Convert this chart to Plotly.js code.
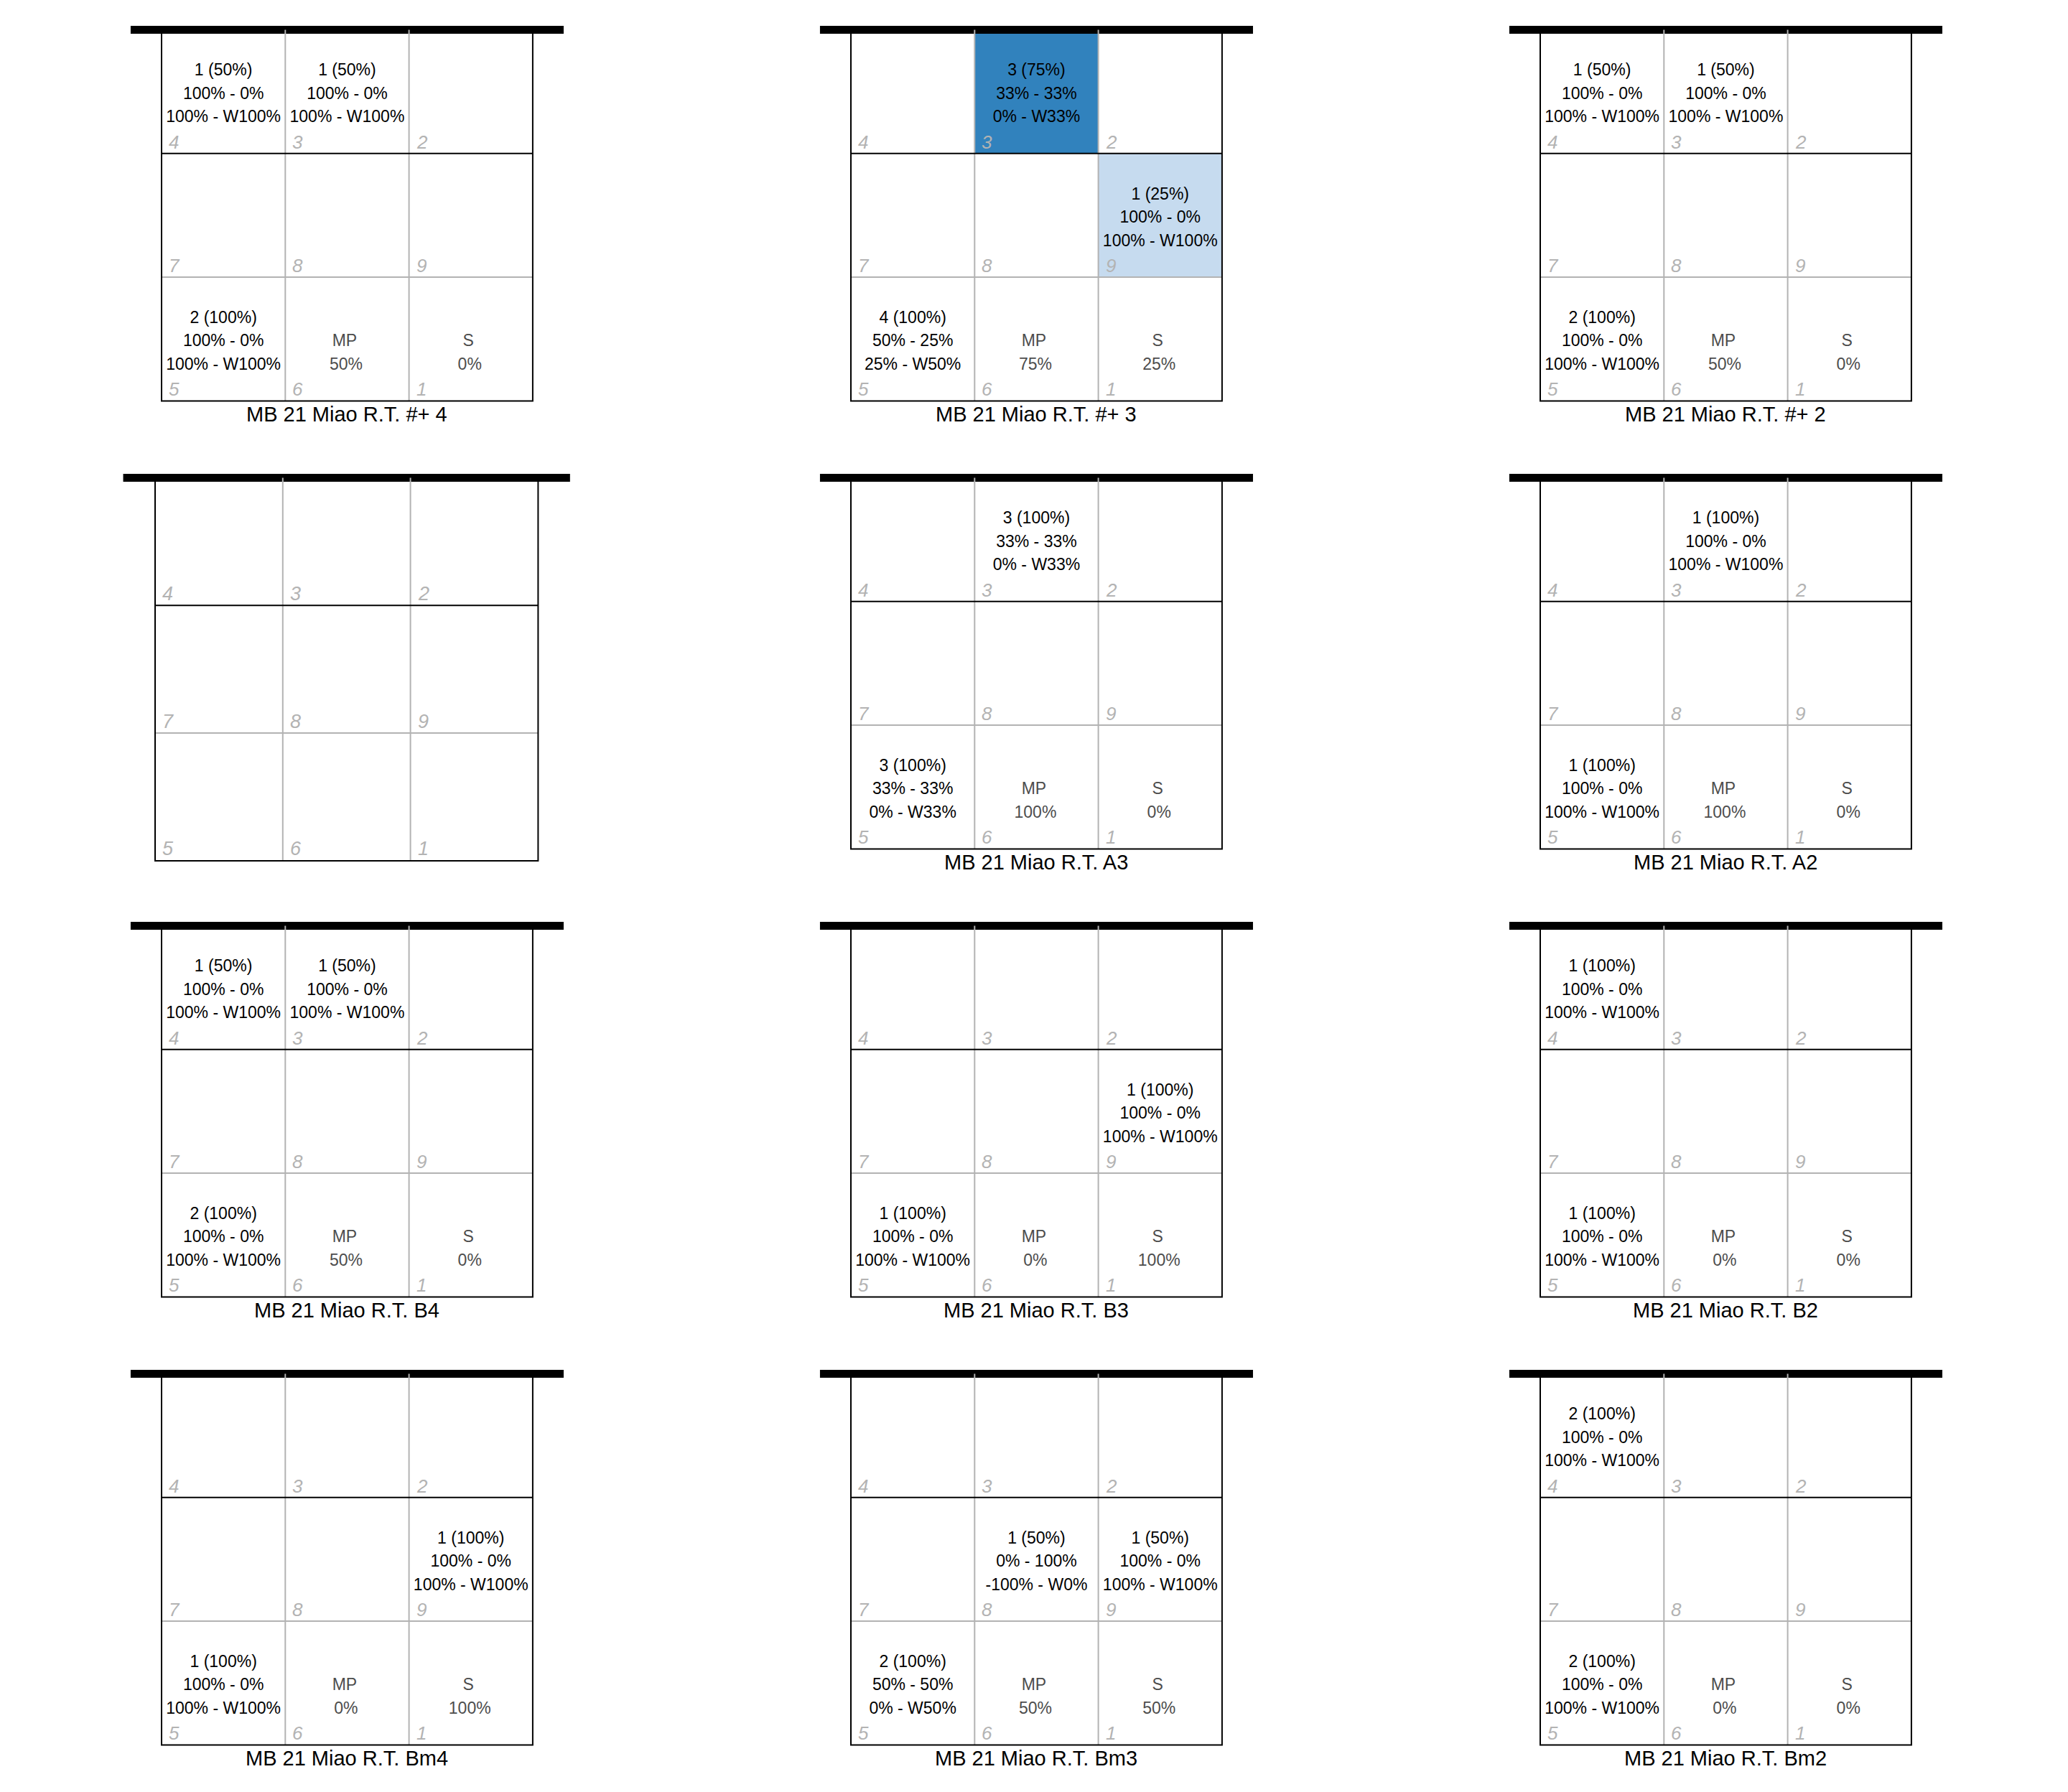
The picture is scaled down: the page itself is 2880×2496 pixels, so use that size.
<!DOCTYPE html>
<html>
<head>
<meta charset="utf-8">
<script src="https://cdn.plot.ly/plotly-3.0.1.min.js"></script>
<style>html,body{margin:0;padding:0;background:#fff;}</style>
</head>
<body>
<div id="chart" style="width:2880px;height:2496px;"></div>
<script>
// ---- DATA ----
const panelTitles = [
  "MB 21 Miao R.T. #+ 4", "MB 21 Miao R.T. #+ 3", "MB 21 Miao R.T. #+ 2",
  "", "MB 21 Miao R.T. A3", "MB 21 Miao R.T. A2",
  "MB 21 Miao R.T. B4", "MB 21 Miao R.T. B3", "MB 21 Miao R.T. B2",
  "MB 21 Miao R.T. Bm4", "MB 21 Miao R.T. Bm3", "MB 21 Miao R.T. Bm2"
];
// cell numbers, rows from bottom to top, columns left to right
const cellGrid = [[5, 6, 1], [7, 8, 9], [4, 3, 2]];
// per panel: [cell, count, countPct, a, b, c, w]  ->  "count (pct%)", "a% - b%", "c% - Ww%"
const cellStats = [
  [[4, 1, 50, 100, 0, 100, 100], [3, 1, 50, 100, 0, 100, 100], [5, 2, 100, 100, 0, 100, 100]],
  [[3, 3, 75, 33, 33, 0, 33], [9, 1, 25, 100, 0, 100, 100], [5, 4, 100, 50, 25, 25, 50]],
  [[4, 1, 50, 100, 0, 100, 100], [3, 1, 50, 100, 0, 100, 100], [5, 2, 100, 100, 0, 100, 100]],
  [],
  [[3, 3, 100, 33, 33, 0, 33], [5, 3, 100, 33, 33, 0, 33]],
  [[3, 1, 100, 100, 0, 100, 100], [5, 1, 100, 100, 0, 100, 100]],
  [[4, 1, 50, 100, 0, 100, 100], [3, 1, 50, 100, 0, 100, 100], [5, 2, 100, 100, 0, 100, 100]],
  [[9, 1, 100, 100, 0, 100, 100], [5, 1, 100, 100, 0, 100, 100]],
  [[4, 1, 100, 100, 0, 100, 100], [5, 1, 100, 100, 0, 100, 100]],
  [[9, 1, 100, 100, 0, 100, 100], [5, 1, 100, 100, 0, 100, 100]],
  [[8, 1, 50, 0, 100, -100, 0], [9, 1, 50, 100, 0, 100, 100], [5, 2, 100, 50, 50, 0, 50]],
  [[4, 2, 100, 100, 0, 100, 100], [5, 2, 100, 100, 0, 100, 100]]
];
const mpShare = [50, 75, 50, null, 100, 100, 50, 0, 0, 0, 50, 0];
const sShare  = [0, 25, 0, null, 0, 0, 0, 100, 0, 100, 50, 0];
// shaded cells: [cell, level 0..1]
const shadedCells = [[], [[3, 0.75], [9, 0.25]], [], [], [], [], [], [], [], [], [], []];

// ---- LAYOUT / DRAWING ----
const W = 2880, H = 2496;
const FONT = "Liberation Sans, Arial, Helvetica, sans-serif";
const XR = [-0.3, 3.3], YR = [-0.1, 3.1];

function cellPos(n) {
  for (let r = 0; r < 3; r++) for (let c = 0; c < 3; c++) if (cellGrid[r][c] === n) return {r, c};
  return null;
}

const traces = [];
const shapes = [];
const annotations = [];
const layout = {
  width: W, height: H, margin: {l: 0, r: 0, t: 0, b: 0},
  paper_bgcolor: "#ffffff", plot_bgcolor: "rgba(0,0,0,0)",
  showlegend: false, font: {family: FONT}
};

panelTitles.forEach((title, i) => {
  const k = i + 1;
  const xa = "x" + (k === 1 ? "" : k), ya = "y" + (k === 1 ? "" : k);
  const r = Math.floor(i / 3), c = i % 3;
  let L, T, C;
  if (title === "") { L = 216; T = 665.5; C = 177.8; }
  else { L = 225 + 960 * c; T = 41.5 + 624 * r; C = 172.3; }
  const sc = C / 172.3;
  layout["xaxis" + (k === 1 ? "" : k)] = {
    domain: [(L + XR[0] * C) / W, (L + XR[1] * C) / W], range: XR,
    visible: false, fixedrange: true, anchor: ya
  };
  layout["yaxis" + (k === 1 ? "" : k)] = {
    domain: [1 - (T + (3 - YR[0]) * C) / H, 1 - (T + (3 - YR[1]) * C) / H], range: YR,
    visible: false, fixedrange: true, anchor: xa
  };

  // cells (heatmap)
  const z = [[0, 0, 0], [0, 0, 0], [0, 0, 0]];
  shadedCells[i].forEach(([n, lv]) => { const p = cellPos(n); z[p.r][p.c] = lv; });
  traces.push({
    type: "heatmap", x: [0.5, 1.5, 2.5], y: [0.5, 1.5, 2.5], z: z,
    xaxis: xa, yaxis: ya, zmin: 0, zmax: 1, showscale: false, hoverinfo: "skip",
    colorscale: [[0, "#ffffff"], [0.25, "#c6dbef"], [0.75, "#3182bd"], [1, "#08519c"]]
  });

  // text
  const tx = [], ty = [], tt = [], tc = [];
  const step = 32.6 / C, mid = -4.5 / C;
  cellStats[i].forEach(([n, cnt, pct, a, b, cc, w]) => {
    const p = cellPos(n);
    const cx = p.c + 0.5, cy = p.r + 0.5 + mid;
    const lines = [`${cnt} (${pct}%)`, `${a}% - ${b}%`, `${cc}% - W${w}%`];
    lines.forEach((s, j) => { tx.push(cx); ty.push(cy + (1 - j) * step); tt.push(s); tc.push("#000000"); });
  });
  if (mpShare[i] !== null) {
    const p6 = cellPos(6), p1 = cellPos(1);
    const cy6 = p6.r + 0.5 + mid, cy1 = p1.r + 0.5 + mid;
    const dl = -3.5 / C, dv = -1.5 / C;
    tx.push(p6.c + 0.5 + dl, p6.c + 0.5 + dv); ty.push(cy6, cy6 - step); tt.push("MP", mpShare[i] + "%"); tc.push("#4d4d4d", "#4d4d4d");
    tx.push(p1.c + 0.5 + dl, p1.c + 0.5 + dv); ty.push(cy1, cy1 - step); tt.push("S", sShare[i] + "%"); tc.push("#4d4d4d", "#4d4d4d");
  }
  if (tx.length) {
    traces.push({
      type: "scatter", mode: "text", x: tx, y: ty, text: tt, xaxis: xa, yaxis: ya,
      textposition: "middle center", cliponaxis: false, hoverinfo: "skip",
      textfont: {family: FONT, size: 23, color: tc}
    });
  }

  // grid lines
  const ref = {xref: xa, yref: ya};
  shapes.push(Object.assign({type: "line", x0: -0.25, x1: 3.25, y0: 3, y1: 3, line: {color: "#000000", width: 11}}, ref));
  [1, 2].forEach(v => shapes.push(Object.assign({type: "line", x0: v, x1: v, y0: 0, y1: 3, line: {color: "#b3b3b3", width: 2}}, ref)));
  shapes.push(Object.assign({type: "line", x0: 0, x1: 3, y0: 1, y1: 1, line: {color: "#b3b3b3", width: 2}}, ref));
  shapes.push(Object.assign({type: "line", x0: 0, x1: 3, y0: 2, y1: 2, line: {color: "#000000", width: 2}}, ref));
  shapes.push(Object.assign({type: "path", path: "M0,3 L0,0 L3,0 L3,3", line: {color: "#000000", width: 2}}, ref));

  // cell numbers
  cellGrid.forEach((row, rr) => row.forEach((n, cc) => {
    annotations.push({
      xref: xa, yref: ya, x: cc, y: rr, xanchor: "left", yanchor: "middle",
      xshift: 8 * sc, yshift: 16 * sc, showarrow: false, text: "<i>" + n + "</i>",
      font: {family: FONT, size: Math.round(26 * sc), color: "#b3b3b3"}
    });
  }));

  // title
  if (title) {
    annotations.push({
      xref: xa, yref: ya, x: 1.5, y: 0, xanchor: "center", yanchor: "middle",
      yshift: -19, showarrow: false, text: title,
      font: {family: FONT, size: 29, color: "#000000"}
    });
  }
});

layout.shapes = shapes;
layout.annotations = annotations;
Plotly.newPlot("chart", traces, layout, {staticPlot: true, displayModeBar: false});
</script>
</body>
</html>
